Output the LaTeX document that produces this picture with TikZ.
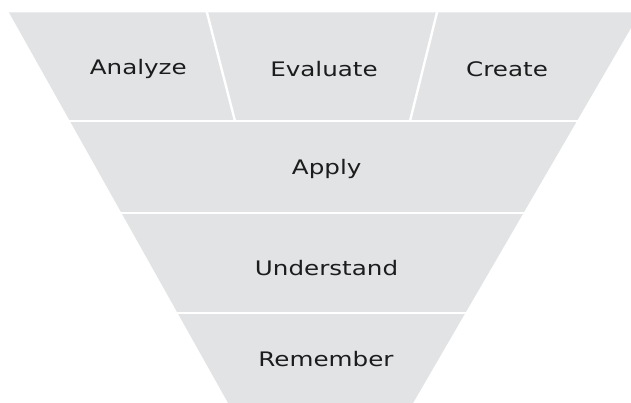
\documentclass[tikz,border=0pt]{standalone}
\usepackage{fontspec}
\setmainfont{DejaVu Sans}
\definecolor{funnelgray}{RGB}{225,227,229}
\definecolor{txtcol}{RGB}{28,28,28}
\begin{document}
\begin{tikzpicture}[x=1pt,y=-1pt,
  lbl/.style={font=\fontsize{20}{24}\selectfont, text=txtcol, xscale=1.23, anchor=base, inner sep=0pt},
  sepline/.style={draw=white, line width=2.4pt}]
\useasboundingbox (0,0) rectangle (631,403);
\fill[white] (0,0) rectangle (631,403);
\begin{scope}
\clip (0,0) rectangle (631,403);
\coordinate (ftl) at (9,12.5);
\coordinate (ftr) at (640,12.5);
\coordinate (fbr) at (409,410);
\coordinate (fbl) at (232,410);
\fill[funnelgray] (ftl) -- (ftr) -- (fbr) -- (fbl) -- cycle;
% horizontal separators
\draw[sepline] (0,121) -- (631,121);
\draw[sepline] (0,213) -- (631,213);
\draw[sepline] (0,313) -- (631,313);
% slanted separators in the top band
\draw[sepline] (206.3,10) -- (235,121);
\draw[sepline] (437.6,10) -- (410,121);
\end{scope}
\node[lbl] (analyze) at (138.3,75) {Analyze};
\node[lbl] (evaluate) at (324,76.7) {Evaluate};
\node[lbl] (create) at (507,76.7) {Create};
\node[lbl] (apply) at (326.7,175) {Apply};
\node[lbl] (understand) at (326.5,275) {Understand};
\node[lbl] (remember) at (326,366.7) {Remember};
\end{tikzpicture}
\end{document}
